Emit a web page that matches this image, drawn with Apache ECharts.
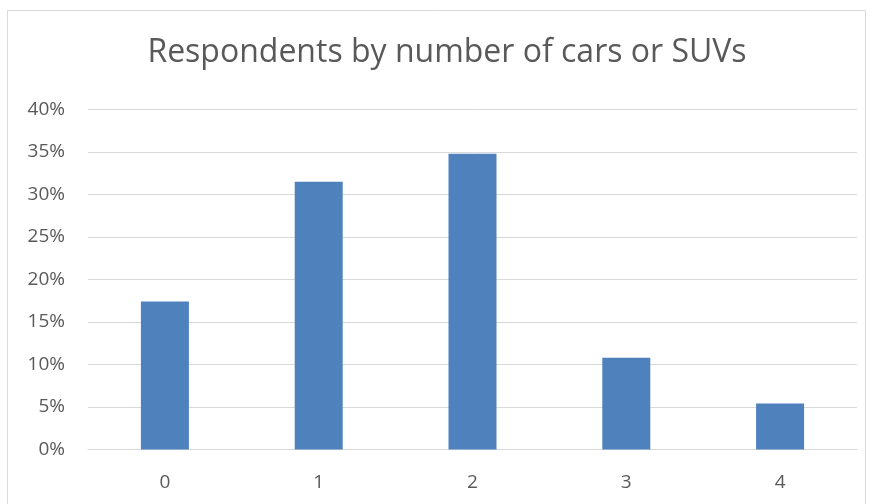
<!DOCTYPE html>
<html><head><meta charset="utf-8">
<script src="https://cdn.jsdelivr.net/npm/echarts@6/dist/echarts.min.js"></script>
<style>html,body{margin:0;padding:0;background:#fff}#c{width:873px;height:504px}</style>
</head><body><div id="c"></div>
<script>
const categories = ['0', '1', '2', '3', '4'];
const shares = [17.4, 31.5, 34.8, 10.8, 5.4];
const titleText = 'Respondents by number of cars or SUVs';

const chart = echarts.init(document.getElementById('c'));
chart.setOption({
  animation: false,
  backgroundColor: '#fff',
  graphic: [{
    type: 'rect', shape: { x: 7.5, y: 10.5, width: 858, height: 510 },
    style: { fill: 'none', stroke: '#d9d9d9', lineWidth: 1 }, silent: true
  }, {
    type: 'text', x: 447, y: 37,
    style: { text: titleText, textAlign: 'center', textVerticalAlign: 'top',
      fontFamily: 'Open Sans', fontSize: 32, fill: '#595959' }
  }],
  grid: { left: 88, right: 16, top: 109.5, bottom: 54.5, containLabel: false },
  xAxis: {
    type: 'category', data: categories,
    axisLine: { lineStyle: { color: '#d9d9d9', width: 1 } },
    axisTick: { show: false },
    axisLabel: { color: '#595959', fontFamily: 'Open Sans', fontSize: 19, margin: 24 }
  },
  yAxis: {
    type: 'value', min: 0, max: 40, interval: 5,
    axisLine: { show: false }, axisTick: { show: false },
    splitLine: { lineStyle: { color: '#d9d9d9', width: 1 } },
    axisLabel: { color: '#595959', fontFamily: 'Open Sans', fontSize: 19, margin: 23, formatter: '{value}%' }
  },
  series: [{
    type: 'bar', data: shares, barWidth: 48,
    itemStyle: { color: '#4f81bd' }
  }]
});
</script></body></html>
